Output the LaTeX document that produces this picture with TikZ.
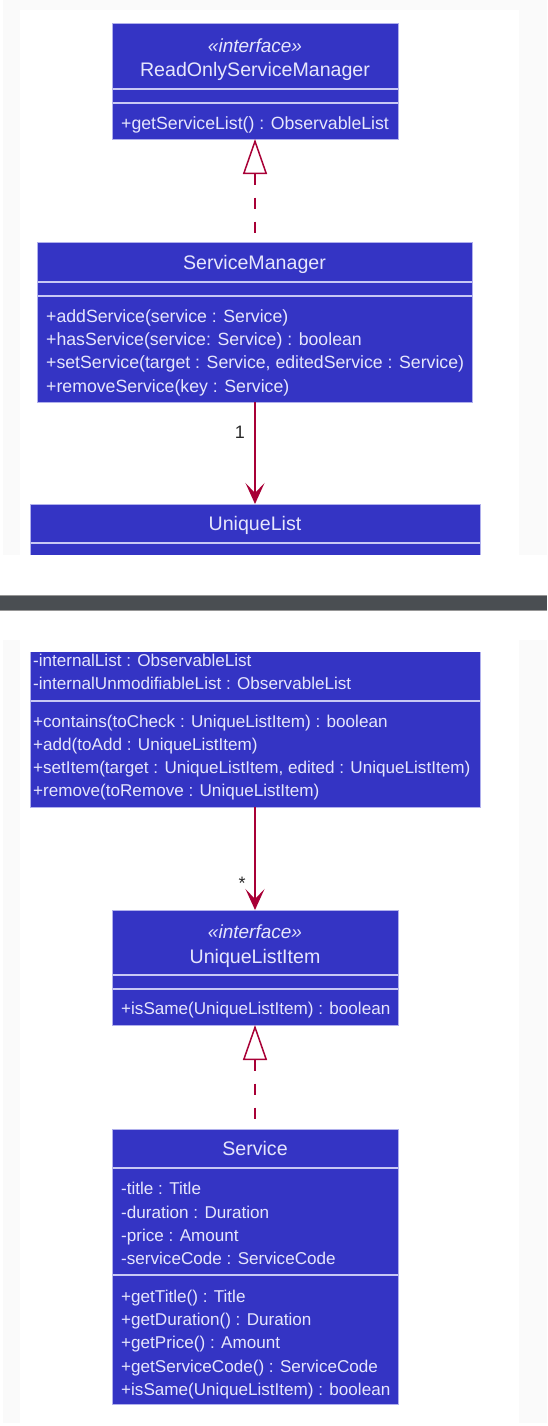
\documentclass[tikz,border=0pt]{standalone}
\usepackage{fontspec}
\setmainfont{Liberation Sans}
\usetikzlibrary{arrows.meta}
\definecolor{umlfill}{RGB}{52,52,196}
\definecolor{umlborder}{RGB}{176,176,236}
\definecolor{umlsep}{RGB}{200,200,244}
\definecolor{umltext}{RGB}{230,230,252}
\definecolor{umlarrow}{RGB}{168,0,54}
\definecolor{bggrey}{RGB}{250,250,250}
\definecolor{barcol}{RGB}{74,78,82}
\definecolor{baredge}{RGB}{150,150,150}
\definecolor{labcol}{RGB}{40,40,40}
\tikzset{
  clsbox/.style={fill=umlfill, draw=umlborder, line width=1pt, inner sep=0pt, outer sep=0pt, anchor=north west},
  cutbox/.style={fill=umlfill, draw=none, inner sep=0pt, outer sep=0pt, anchor=north west},
  border/.style={draw=umlborder, line width=1pt},
  membU/.style={anchor=base west, inner sep=0pt, text=umltext, font=\fontsize{17.7}{20}\selectfont},
  membL/.style={anchor=base west, inner sep=0pt, text=umltext, font=\fontsize{17.1}{20}\selectfont},
  clstitle/.style={anchor=base, inner sep=0pt, text=umltext, font=\fontsize{19.6}{22}\selectfont},
  stereo/.style={anchor=base, inner sep=0pt, text=umltext, font=\fontsize{19}{21}\selectfont\itshape},
  sepline/.style={draw=umlsep, line width=1.3pt},
  realize/.style={draw=umlarrow, line width=1.5pt, dash pattern=on 11pt off 13pt, {Triangle[open, length=35pt, width=24pt, line width=1.5pt]}-},
  assoc/.style={draw=umlarrow, line width=1.5pt, -{Stealth[length=21pt, width=19pt, inset=10pt]}},
  mult/.style={anchor=base, inner sep=0pt, text=labcol, font=\fontsize{18}{20}\selectfont},
}
\begin{document}
\begin{tikzpicture}[x=1pt,y=-1pt]
\useasboundingbox (0,0) rectangle (547,1426);
% backgrounds
\fill[white] (0,0) rectangle (547,1426);
\fill[bggrey] (3,0) rectangle (547,555);
\fill[white] (20,10) rectangle (519,555);
\fill[bggrey] (3,640) rectangle (547,1423);
\fill[white] (20,640) rectangle (519,1423);
% dark bar
\fill[barcol] (0,595) rectangle (547,611);
\draw[baredge, line width=1pt] (0,595.5) -- (547,595.5);
\draw[baredge, line width=1pt] (0,610.5) -- (547,610.5);

% ReadOnlyServiceManager
\node[clsbox, minimum width=286pt, minimum height=115pt] (rosm) at (112,24) {};
\node[stereo] (rosmS) at (255,53) {«interface»};
\node[clstitle] (rosmT) at (255,77) {ReadOnlyServiceManager};
\draw[sepline] (112.5,89) -- (397.5,89);
\draw[sepline] (112.5,103) -- (397.5,103);
\node[membU] (rosmM1) at (121,129) {+getServiceList() : ObservableList};

% ServiceManager
\node[clsbox, minimum width=435pt, minimum height=160pt] (sm) at (37,242) {};
\node[clstitle] (smT) at (254.5,269) {ServiceManager};
\draw[sepline] (37.5,282) -- (471.5,282);
\draw[sepline] (37.5,296) -- (471.5,296);
\node[membU] (smM1) at (46,322) {+addService(service : Service)};
\node[membU] (smM2) at (46,345.3) {+hasService(service: Service) : boolean};
\node[membU] (smM3) at (46,368.7) {+setService(target : Service, editedService : Service)};
\node[membU] (smM4) at (46,392) {+removeService(key : Service)};

% UniqueList (upper part, cut)
\node[cutbox, minimum width=450pt, minimum height=51pt] (ul) at (30,504) {};
\draw[border] (ul.south west) -- (ul.north west) -- (ul.north east) -- (ul.south east);
\node[clstitle] (ulT) at (255,530) {UniqueList};
\draw[sepline] (30.5,543) -- (479.5,543);

% UniqueList (lower part, cut)
\node[cutbox, minimum width=450pt, minimum height=155pt] (ulb) at (30,652) {};
\draw[border] (ulb.north west) -- (ulb.south west) -- (ulb.south east) -- (ulb.north east);
\node[membL] (ulA1) at (33,666) {-internalList : ObservableList};
\node[membL] (ulA2) at (33,689) {-internalUnmodifiableList : ObservableList};
\draw[sepline] (30.5,701) -- (479.5,701);
\node[membL] (ulM1) at (33,727) {+contains(toCheck : UniqueListItem) : boolean};
\node[membL] (ulM2) at (33,750) {+add(toAdd : UniqueListItem)};
\node[membL] (ulM3) at (33,773) {+setItem(target : UniqueListItem, edited : UniqueListItem)};
\node[membL] (ulM4) at (33,796) {+remove(toRemove : UniqueListItem)};

% UniqueListItem
\node[clsbox, minimum width=286pt, minimum height=115pt] (uli) at (112,910) {};
\node[stereo] (uliS) at (255,938) {«interface»};
\node[clstitle] (uliT) at (255,963) {UniqueListItem};
\draw[sepline] (112.5,975) -- (397.5,975);
\draw[sepline] (112.5,989) -- (397.5,989);
\node[membL] (uliM1) at (121,1014) {+isSame(UniqueListItem) : boolean};

% Service
\node[clsbox, minimum width=286pt, minimum height=275pt] (svc) at (112,1129) {};
\node[clstitle] (svcT) at (255,1155) {Service};
\draw[sepline] (112.5,1168) -- (397.5,1168);
\node[membL] (svcA1) at (121,1194) {-title : Title};
\node[membL] (svcA2) at (121,1218) {-duration : Duration};
\node[membL] (svcA3) at (121,1241) {-price : Amount};
\node[membL] (svcA4) at (121,1264) {-serviceCode : ServiceCode};
\draw[sepline] (112.5,1275) -- (397.5,1275);
\node[membL] (svcM1) at (121,1302) {+getTitle() : Title};
\node[membL] (svcM2) at (121,1325) {+getDuration() : Duration};
\node[membL] (svcM3) at (121,1348) {+getPrice() : Amount};
\node[membL] (svcM4) at (121,1372) {+getServiceCode() : ServiceCode};
\node[membL] (svcM5) at (121,1395) {+isSame(UniqueListItem) : boolean};

% connectors
\draw[realize] (rosm.south) -- (rosm.south |- sm.north);
\draw[assoc] (sm.south -| ul.north) -- (ul.north);
\node[mult] (m1) at (240,438) {1};
\draw[assoc] (ulb.south) -- (uli.north);
\node[mult] (m2) at (242,889) {*};
\draw[realize] (uli.south) -- (svc.north);
\end{tikzpicture}
\end{document}
